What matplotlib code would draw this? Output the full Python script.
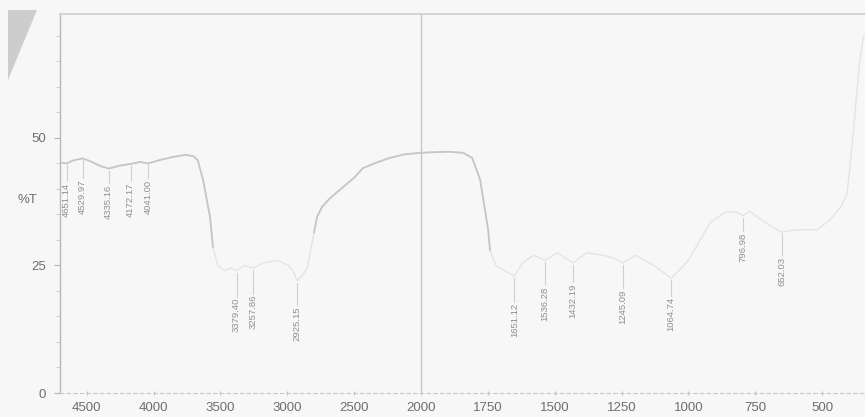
import numpy as np
import matplotlib
matplotlib.use("Agg")
import matplotlib.pyplot as plt
from matplotlib.patches import Polygon
import matplotlib.transforms as mtransforms

# ---- data -------------------------------------------------------------
wavenumber = [4700, 4651, 4600, 4530, 4470, 4400, 4335, 4250, 4172, 4100, 4041,
              3950, 3850, 3760, 3700, 3670, 3630, 3578, 3556, 3520, 3470, 3420,
              3379, 3320, 3257, 3180, 3080, 2990, 2960, 2925, 2890, 2850, 2830,
              2800, 2778, 2740, 2680, 2591, 2500, 2434, 2330, 2232, 2120, 2000,
              1900, 1843, 1809, 1779, 1749, 1742, 1720, 1690, 1651, 1620, 1580,
              1536, 1490, 1432, 1380, 1320, 1281, 1245, 1200, 1130, 1064, 1000,
              918, 860, 820, 797, 770, 743, 700, 652, 600, 519, 470, 430, 407,
              384, 360, 345]
transmittance = [45.2, 45.0, 45.6, 46.0, 45.4, 44.5, 44.0, 44.6, 44.9, 45.3, 45.0,
                 45.7, 46.3, 46.7, 46.4, 45.6, 41.8, 34.5, 28.6, 25.0, 24.0, 24.5,
                 24.0, 25.0, 24.5, 25.5, 26.0, 25.0, 24.0, 22.0, 23.0, 24.5, 27.5,
                 31.5, 34.5, 36.5, 38.2, 40.2, 42.2, 44.1, 45.2, 46.1, 46.8, 47.1,
                 47.3, 47.1, 46.1, 41.8, 32.0, 28.0, 25.0, 24.0, 23.0, 25.5, 27.0,
                 26.0, 27.5, 25.5, 27.5, 27.0, 26.5, 25.5, 27.0, 25.0, 22.5, 26.0,
                 33.5, 35.5, 35.5, 34.8, 35.6, 34.5, 33.0, 31.5, 32.0, 32.0, 34.0,
                 36.5, 39.0, 51.0, 65.0, 70.0]

peak_wn = [4651.14, 4529.97, 4335.16, 4172.17, 4041.00, 3379.40, 3257.86,
           2925.15, 1651.12, 1536.28, 1432.19, 1245.09, 1064.74, 796.98, 652.03]
peak_labels = ["4651.14", "4529.97", "4335.16", "4172.17", "4041.00", "3379.40",
               "3257.86", "2925.15", "1651.12", "1536.28", "1432.19", "1245.09",
               "1064.74", "796.98", "652.03"]
peak_label_top = [41.2, 41.8, 40.8, 41.2, 41.8, 18.6, 19.2, 16.9, 17.6, 20.8,
                  21.4, 20.2, 18.8, 31.4, 26.7]

x_ticks = [4500, 4000, 3500, 3000, 2500, 2000, 1750, 1500, 1250, 1000, 750, 500]
y_ticks = [0, 25, 50]

# ---- piecewise scale (x2 expansion below 2000 cm-1) --------------------
def fwd(x):
    x = np.asarray(x, dtype=float)
    return np.where(x >= 2000, x - 2000, 2 * (x - 2000))

def inv(y):
    y = np.asarray(y, dtype=float)
    return np.where(y >= 0, y + 2000, y / 2 + 2000)

plt.rcParams['font.family'] = ['Liberation Sans', 'DejaVu Sans']

fig = plt.figure(figsize=(8.65, 4.17), dpi=100, facecolor='#f7f7f7')
ax = fig.add_axes([60 / 865, 24 / 417, 805 / 865, (417 - 38) / 417])
ax.set_facecolor('#f7f7f7')

ax.set_xscale('function', functions=(fwd, inv))
ax.set_xlim(4700, 340)
ax.set_ylim(0, 74.3)

# the printed trace has faded in the deep bands and low-wavenumber end of the scan
w_arr = np.array(wavenumber, dtype=float)
t_arr = np.array(transmittance, dtype=float)
ax.plot(w_arr, t_arr, color='#e4e4e4', lw=1.0, solid_joinstyle='round')
t_vis = np.where((t_arr >= 28) & (w_arr >= 1740), t_arr, np.nan)
ax.plot(w_arr, t_vis, color='#c6c6c6', lw=1.3, solid_joinstyle='round')
ax.axvline(2000, color='#c8c8c8', lw=1.0)

# peak labels
for w, lab, top in zip(peak_wn, peak_labels, peak_label_top):
    trace_val = np.interp(w, w_arr[::-1], t_arr[::-1])
    ax.plot([w, w], [top + 0.3, max(trace_val - 0.4, top + 1.5)],
            color='#d0d0d0', lw=0.8)
    ax.text(w, top, lab, rotation=90, ha='center', va='top',
            fontsize=6.8, color='#909090')

# axes styling
ax.set_xticks(x_ticks)
ax.set_xticklabels([str(t) for t in x_ticks])
ax.set_yticks(y_ticks)
ax.set_yticklabels([str(t) for t in y_ticks])
ax.set_yticks(np.arange(5, 75, 5), minor=True)
ax.tick_params(axis='x', which='major', length=3, direction='inout',
               color='#c0c0c0', labelsize=9.5, labelcolor='#6e6e6e', pad=5)
ax.tick_params(axis='y', which='major', length=4, direction='out',
               color='#b5b5b5', labelsize=9.5, labelcolor='#6e6e6e', pad=6)
ax.tick_params(axis='y', which='minor', length=3, direction='out', color='#c8c8c8')
ax.tick_params(axis='x', which='minor', length=0)

ax.spines['right'].set_visible(False)
ax.spines['left'].set_color('#b8b8b8')
ax.spines['left'].set_linewidth(1.0)
ax.spines['bottom'].set_color('#c8c8c8')
ax.spines['bottom'].set_linestyle((0, (3, 3)))
ax.spines['top'].set_color('#cfcfcf')
ax.spines['top'].set_linewidth(1.2)

trans = mtransforms.blended_transform_factory(ax.transAxes, ax.transData)
ax.text(-0.04, 37.8, '%T', transform=trans, ha='center', va='center',
        fontsize=9.5, color='#6e6e6e')

# scanner shadow in the top-left corner
fig.patches.append(Polygon([(8 / 865, 1 - 10 / 417), (37 / 865, 1 - 10 / 417),
                            (8 / 865, 1 - 80 / 417)], closed=True,
                           transform=fig.transFigure, facecolor='#cdcdcd',
                           edgecolor='none'))

fig.savefig('out.png', dpi=100, facecolor=fig.get_facecolor())
